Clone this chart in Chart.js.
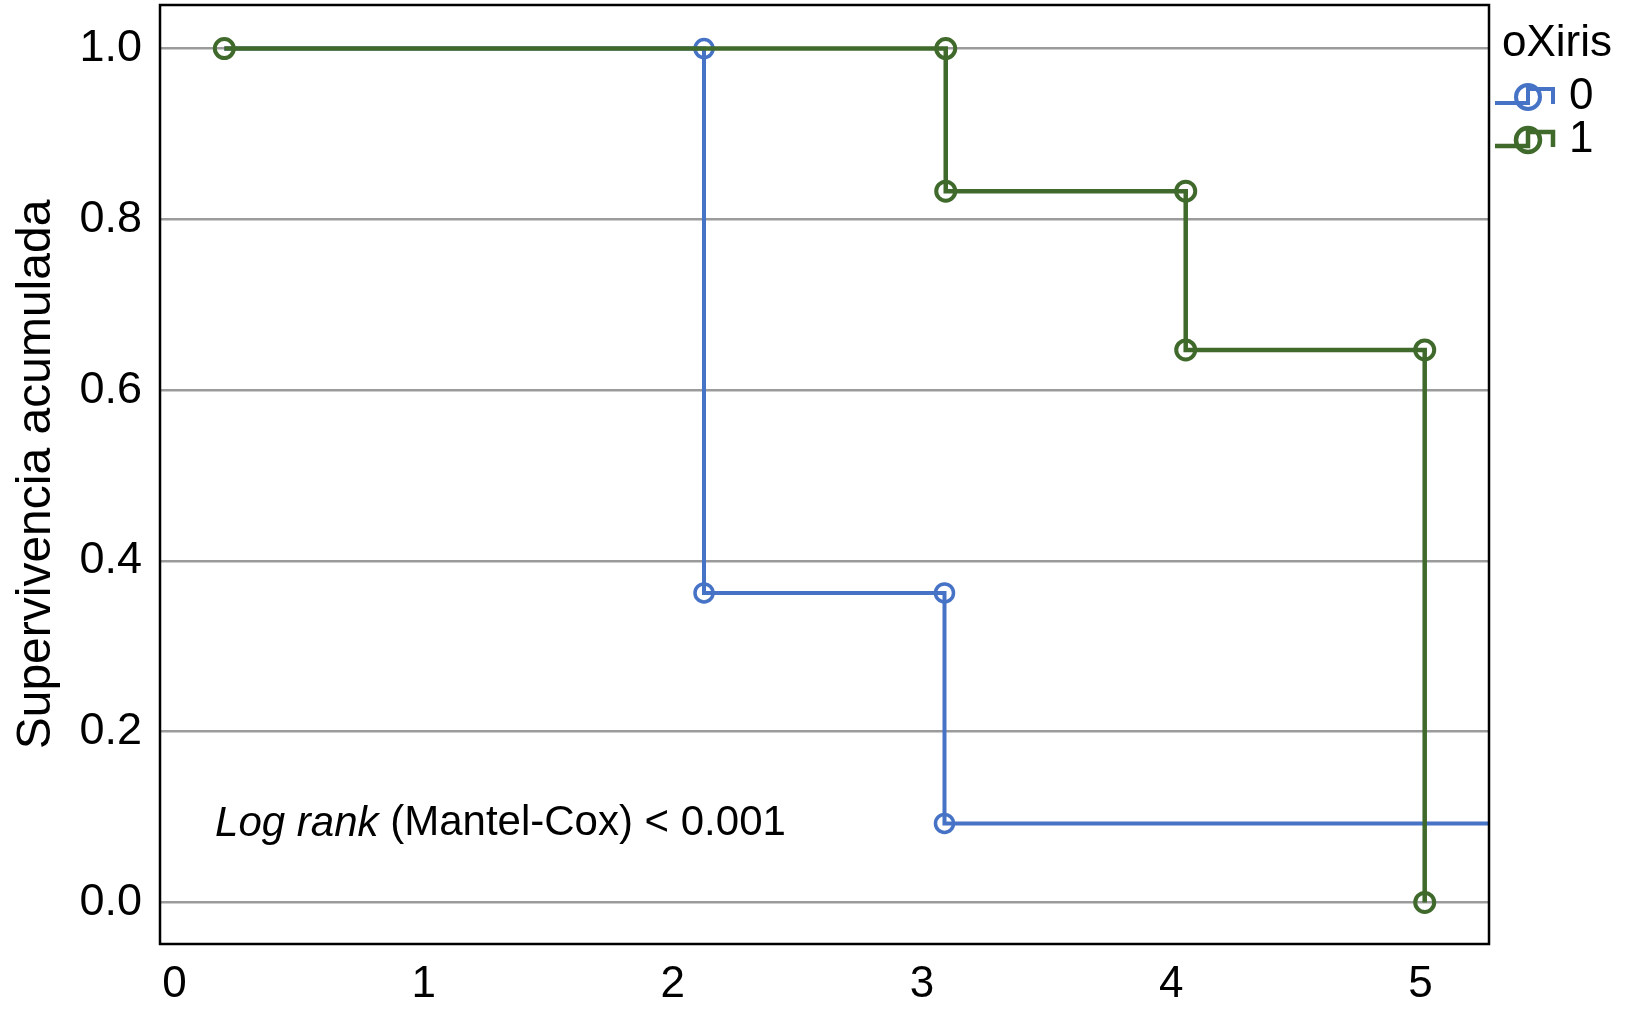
<!DOCTYPE html>
<html>
<head>
<meta charset="utf-8">
<script src="https://cdn.jsdelivr.net/npm/chart.js@4"></script>
<style>
  html, body { margin: 0; padding: 0; background: #fff; }
  #wrap { width: 1628px; height: 1024px; }
</style>
</head>
<body>
<div id="wrap"><canvas id="km-chart" width="1628" height="1024"></canvas></div>
<script>
// Kaplan-Meier curves, step points (time, survival)
const groupLabels = ['0', '1'];
const timeBlue = [0.2, 2.125, 2.125, 3.09, 3.09, 5.275];
const survBlue = [1.0, 1.0, 0.3625, 0.3625, 0.0925, 0.0925];
const markBlue = [0, 1, 1, 1, 1, 0];
const timeGreen = [0.2, 3.095, 3.095, 4.058, 4.058, 5.017, 5.017];
const survGreen = [1.0, 1.0, 0.833, 0.833, 0.647, 0.647, 0.0];
const markGreen = [1, 1, 1, 1, 1, 1, 1];
const xTicks = [0, 1, 2, 3, 4, 5];
const yTicks = [0, 0.2, 0.4, 0.6, 0.8, 1.0];

const BLUE = '#4673c6';
const GREEN = '#3f6a2b';
const FONT = '"Liberation Sans", Arial, Helvetica, sans-serif';

function toPoints(xs, ys) {
    return xs.map((x, i) => ({ x: x, y: ys[i] }));
}

// box around plot area
const frame = {
    id: 'frame',
    afterDatasetsDraw(chart) {
        const { ctx, chartArea: a } = chart;
        ctx.save();
        ctx.strokeStyle = '#000';
        ctx.lineWidth = 2.5;
        ctx.strokeRect(a.left, a.top, a.right - a.left, a.bottom - a.top);
        ctx.restore();
    }
};

// log rank note
const note = {
    id: 'note',
    afterDraw(chart) {
        const { ctx, scales } = chart;
        const x = scales.x.getPixelForValue(0.163);
        const y = scales.y.getPixelForValue(0.092);
        ctx.save();
        ctx.fillStyle = '#000';
        ctx.textBaseline = 'middle';
        ctx.font = 'italic 42px ' + FONT;
        ctx.fillText('Log rank', x, y);
        const w = ctx.measureText('Log rank ').width;
        ctx.font = '42px ' + FONT;
        ctx.fillText('(Mantel-Cox) < 0.001', x + w, y);
        ctx.restore();
    }
};

// legend to the right of the plot
const sideLegend = {
    id: 'sideLegend',
    afterDraw(chart) {
        const ctx = chart.ctx;
        const left = chart.chartArea.right + 6;
        ctx.save();
        ctx.fillStyle = '#000';
        ctx.textBaseline = 'middle';
        ctx.font = '44px ' + FONT;
        ctx.fillText('oXiris', left + 7, 44);
        const colors = [BLUE, GREEN];
        groupLabels.forEach((lab, i) => {
            const cy = 97 + i * 43;
            ctx.strokeStyle = colors[i];
            ctx.lineWidth = i ? 4.5 : 4;
            ctx.beginPath();
            ctx.moveTo(left, cy + 6);
            ctx.lineTo(left + 33, cy + 6);
            ctx.lineTo(left + 33, cy - 8);
            ctx.lineTo(left + 58, cy - 8);
            ctx.lineTo(left + 58, cy + 7);
            ctx.stroke();
            ctx.beginPath();
            ctx.arc(left + 33, cy, 12, 0, Math.PI * 2);
            ctx.stroke();
            ctx.fillStyle = '#000';
            ctx.fillText(lab, left + 74, cy);
        });
        ctx.restore();
    }
};

new Chart(document.getElementById('km-chart'), {
    type: 'scatter',
    data: {
        datasets: [{
            label: groupLabels[1],
            data: toPoints(timeGreen, survGreen),
            showLine: true,
            borderColor: GREEN,
            borderWidth: 4.5,
            pointRadius: markGreen.map(m => m ? 9.5 : 0),
            pointBorderWidth: 4,
            pointBorderColor: GREEN,
            pointBackgroundColor: 'rgba(0,0,0,0)',
            order: 1
        }, {
            label: groupLabels[0],
            data: toPoints(timeBlue, survBlue),
            showLine: true,
            borderColor: BLUE,
            borderWidth: 4,
            pointRadius: markBlue.map(m => m ? 9 : 0),
            pointBorderWidth: 3.5,
            pointBorderColor: BLUE,
            pointBackgroundColor: 'rgba(0,0,0,0)',
            order: 2
        }]
    },
    options: {
        responsive: false,
        animation: false,
        layout: { autoPadding: false, padding: { top: 5, right: 139, left: 0, bottom: 0 } },
        plugins: {
            legend: { display: false },
            tooltip: { enabled: false }
        },
        scales: {
            x: {
                type: 'linear',
                min: -0.058,
                max: 5.275,
                afterBuildTicks: s => { s.ticks = xTicks.map(v => ({ value: v })); },
                afterFit: s => {
                    s.height = 80;
                    s.paddingLeft = 0;
                    s.paddingRight = 0;
                },
                grid: { display: false, drawTicks: false },
                border: { display: false },
                ticks: {
                    color: '#000',
                    padding: 14,
                    maxRotation: 0,
                    font: { family: FONT, size: 44 },
                    callback: v => String(v)
                }
            },
            y: {
                type: 'linear',
                min: -0.0487,
                max: 1.051,
                afterBuildTicks: s => { s.ticks = yTicks.map(v => ({ value: v })); },
                afterFit: s => {
                    s.width = 160;
                    s.paddingTop = 0;
                    s.paddingBottom = 0;
                },
                grid: { color: '#9b9b9b', lineWidth: 2.5, drawTicks: false, tickLength: 0 },
                border: { display: false },
                title: {
                    display: true,
                    text: 'Supervivencia acumulada',
                    color: '#000',
                    padding: { top: 8, bottom: 0 },
                    font: { family: FONT, size: 48 }
                },
                ticks: {
                    color: '#000',
                    padding: 18,
                    font: { family: FONT, size: 45 },
                    callback: v => Number(v).toFixed(1)
                }
            }
        }
    },
    plugins: [frame, note, sideLegend]
});
</script>
</body>
</html>
